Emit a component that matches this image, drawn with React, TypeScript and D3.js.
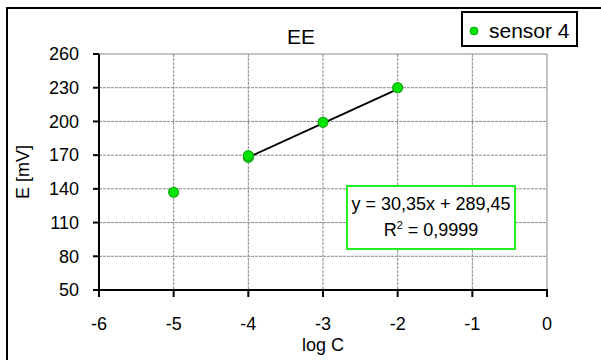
import React from "react";
import * as d3 from "d3";

const xTicks = [-6, -5, -4, -3, -2, -1, 0];
const yTicks = [50, 80, 110, 140, 170, 200, 230, 260];
const logC = [-5, -4, -4, -3, -2];
const potential = [137, 168, 169.5, 199.2, 230];
const slope = 30.35;
const intercept = 289.45;
const fitRange = [-4, -2];
const title = "EE";
const seriesName = "sensor 4";
const eqLine1 = "y = 30,35x + 289,45";
const r2Value = "0,9999";

const W = 601;
const H = 360;
const L = 99, R = 547, T = 54, B = 290;
const FONT = "'Liberation Sans', Arial, sans-serif";
const FILL = "#00e600";
const STROKE = "#13a813";

export default function App() {
  const x = d3.scaleLinear().domain([-6, 0]).range([L, R]);
  const y = d3.scaleLinear().domain([50, 260]).range([B, T]);
  const fitLine = d3.line<number>().x((v) => x(v)).y((v) => y(slope * v + intercept));
  return (
    <svg width={W} height={H} style={{ position: "absolute", left: 0, top: 0, display: "block" }} fontFamily={FONT}>
      <rect x={0} y={0} width={W} height={H} fill="#fff" />
      <rect x={7} y={8} width={W + 10} height={H + 10} fill="none" stroke="#000" strokeWidth={2} />
      {/* grid */}
      {xTicks.filter((t) => t !== -6).map((t) => (
        <line key={"gx" + t} x1={x(t)} x2={x(t)} y1={T} y2={B} stroke="#888" strokeWidth={1} strokeDasharray={t === 0 ? "none" : "3,1"} />
      ))}
      {yTicks.filter((t) => t !== 50).map((t) => (
        <line key={"gy" + t} x1={L} x2={R} y1={y(t)} y2={y(t)} stroke="#888" strokeWidth={1} strokeDasharray={t === 260 ? "none" : "3,1"} />
      ))}
      {/* axes */}
      <line x1={L} x2={L} y1={T} y2={B + 1} stroke="#000" strokeWidth={2} />
      <line x1={L - 1} x2={R + 1} y1={B} y2={B} stroke="#000" strokeWidth={2} />
      {yTicks.map((t) => (
        <g key={"yt" + t}>
          <line x1={L - 6} x2={L} y1={y(t)} y2={y(t)} stroke="#000" strokeWidth={2} />
          <text x={L - 20} y={y(t)} dy="0.35em" textAnchor="end" fontSize={18} fill="#000">{t}</text>
        </g>
      ))}
      {xTicks.map((t) => (
        <g key={"xt" + t}>
          <line x1={x(t)} x2={x(t)} y1={B} y2={B + 7} stroke="#000" strokeWidth={2} />
          <text x={x(t)} y={330} textAnchor="middle" fontSize={18} fill="#000">{t}</text>
        </g>
      ))}
      <text x={(L + R) / 2} y={351} textAnchor="middle" fontSize={18} fill="#000">log C</text>
      <text transform={`translate(29,${(T + B) / 2}) rotate(-90)`} textAnchor="middle" fontSize={18} fill="#000">E [mV]</text>
      <text x={301} y={44} textAnchor="middle" fontSize={21} fill="#000">{title}</text>
      {/* trend line */}
      <path d={fitLine(fitRange) || ""} stroke="#000" strokeWidth={2} fill="none" />
      {/* points */}
      {logC.map((v, i) => (
        <circle key={"p" + i} cx={x(v)} cy={y(potential[i])} r={5} fill={FILL} stroke={STROKE} strokeWidth={1.2} />
      ))}
      {/* legend */}
      <rect x={462} y={12} width={115} height={34} fill="#fff" stroke="#000" strokeWidth={2} />
      <circle cx={474} cy={31} r={4} fill={FILL} stroke={STROKE} strokeWidth={1} />
      <text x={489} y={38} fontSize={21} fill="#000">{seriesName}</text>
      {/* equation box */}
      <rect x={347} y={186} width={168} height={63} fill="#fff" stroke="#22ee22" strokeWidth={2} />
      <text x={431} y={210} textAnchor="middle" fontSize={18} fill="#000">{eqLine1}</text>
      <text x={431} y={236} textAnchor="middle" fontSize={18} fill="#000">
        R<tspan fontSize={11} dy={-7}>2</tspan><tspan dy={7}> = {r2Value}</tspan>
      </text>
    </svg>
  );
}
